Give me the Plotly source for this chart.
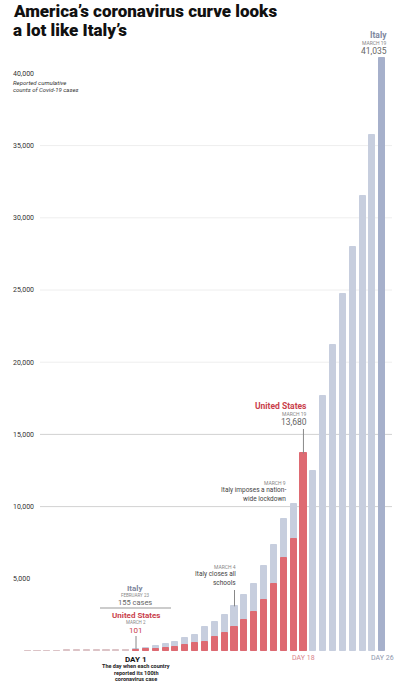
import plotly.graph_objects as go

# ---------------- data ----------------
italy_days = list(range(-10, 27))
italy_cases = [3, 3, 3, 3, 3, 3, 3, 3, 3, 20, 62,
               155, 229, 322, 453, 655, 888, 1128, 1694, 2036, 2502,
               3089, 3858, 4636, 5883, 7375, 9172, 10149, 12462, 12462, 17660,
               21157, 24747, 27980, 31506, 35713, 41035]
us_days = list(range(-10, 19))
us_cases = [13, 15, 15, 15, 51, 51, 57, 58, 60, 68, 74,
            101, 122, 153, 221, 278, 417, 537, 605, 959, 1281,
            1663, 2179, 2726, 3499, 4632, 6421, 7786, 13680]
y_ticks = [5000, 10000, 15000, 20000, 25000, 30000, 35000, 40000]
y_tick_labels = ["5,000", "10,000", "15,000", "20,000", "25,000", "30,000", "35,000", "40,000"]

# ---------------- style ----------------
GRAY = "#c7cede"
GRAY_LAST = "#a6b0cb"
GRAY_PRE = "#d6dae3"
RED = "#de6a72"
RED_PRE = "#dcc3c6"
RED_TEXT = "#c9414b"
ITALY_TEXT = "#7e879e"
FONT = "Roboto"

W, H = 400, 684
BASE_PY = 651  # pixel row of zero line
ML, MR, MT = 10, 0, 0
MB = H - BASE_PY
PW, PH = W - ML - MR, H - MT - MB
DAY1_PX, STEP = 136, 9.85
PX_PER_5K = 72.2


def px2x(px):
    return 1 + (px - DAY1_PX) / STEP


def py2y(py):
    return (BASE_PY - py) / PX_PER_5K * 5000


def ppx(px):
    return (px - ML) / PW


def ppy(py):
    return (BASE_PY - py) / PH


italy_colors = [GRAY_PRE if d < 1 else GRAY for d in italy_days]
italy_colors[-1] = GRAY_LAST
us_colors = [RED_PRE if d < 1 else RED for d in us_days]

fig = go.Figure()
fig.add_trace(go.Bar(x=italy_days, y=italy_cases, width=0.62,
                     marker=dict(color=italy_colors, line=dict(color=italy_colors, width=1)),
                     hoverinfo="x+y", name="Italy"))
fig.add_trace(go.Bar(x=us_days, y=us_cases, width=0.62,
                     marker=dict(color=us_colors, line=dict(color=us_colors, width=1)),
                     hoverinfo="x+y", name="United States"))

shapes = []
for v in y_ticks:
    if v in (10000, 15000):
        col = "#d2d2d2"
    elif v in (5000, 40000):
        continue
    else:
        col = "#eeeeee"
    shapes.append(dict(type="line", xref="x", yref="y", x0=px2x(40), x1=px2x(392),
                       y0=v, y1=v, line=dict(color=col, width=1), layer="below"))


def pidx(lst, d, days):
    return lst[days.index(d)]


# leader lines
us_last = us_days[-1]
shapes.append(dict(type="line", xref="x", yref="y", x0=us_last, x1=us_last,
                   y0=py2y(429), y1=pidx(us_cases, us_last, us_days),
                   line=dict(color="#888", width=1)))
shapes.append(dict(type="line", xref="x", yref="y", x0=11, x1=11,
                   y0=py2y(590), y1=pidx(italy_cases, 11, italy_days),
                   line=dict(color="#888", width=1)))
shapes.append(dict(type="line", xref="x", yref="y", x0=1, x1=1,
                   y0=py2y(636), y1=pidx(italy_cases, 1, italy_days),
                   line=dict(color="#888", width=1)))
shapes.append(dict(type="line", xref="paper", yref="paper", x0=ppx(100), x1=ppx(171),
                   y0=ppy(608), y1=ppy(608), line=dict(color="#999", width=1)))

annotations = []


def ann(px, py, text, size, color="#222", anchor="left", bold=False, italic=False,
        family=FONT, weight=None):
    if bold:
        text = "<b>" + text + "</b>"
    if italic:
        text = "<i>" + text + "</i>"
    font = dict(size=size, color=color, family=family)
    if weight:
        font["weight"] = weight
    annotations.append(dict(x=ppx(px), y=ppy(py), xref="paper", yref="paper", text=text,
                            showarrow=False, xanchor=anchor, yanchor="middle",
                            align=anchor if anchor != "center" else "center",
                            font=font))


# title
ann(11, 11, "America’s coronavirus curve looks", 17, "#111", weight=900)
ann(11, 30, "a lot like Italy’s", 17, "#111", weight=900)

# axis note
ann(11, 82, "Reported cumulative", 6, "#333", italic=True)
ann(11, 90, "counts of Covid-19 cases", 6, "#333", italic=True)

# Italy top
ann(389, 35, "Italy", 8.5, ITALY_TEXT, anchor="right", bold=True)
ann(389, 43, "MARCH 19", 5, "#888", anchor="right")
ann(389, 51, "41,035", 8.5, "#666", anchor="right")

# US top
ann(309, 406, "United States", 8.5, RED_TEXT, anchor="right", bold=True)
ann(309, 414, "MARCH 19", 5, "#888", anchor="right")
ann(309, 422, "13,680", 8.5, "#666", anchor="right")

# lockdown
ann(288, 483, "MARCH 9", 5, "#888", anchor="right")
ann(288, 490, "Italy imposes a nation-", 6.5, "#444", anchor="right")
ann(288, 499, "wide lockdown", 6.5, "#444", anchor="right")

# schools
ann(238, 567, "MARCH 4", 5, "#888", anchor="right")
ann(238, 574, "Italy closes all", 6.5, "#444", anchor="right")
ann(238, 583, "schools", 6.5, "#444", anchor="right")

# day 1 block
ann(135, 588, "Italy", 8, ITALY_TEXT, anchor="center", bold=True)
ann(135, 595, "FEBRUARY 23", 4.5, "#888", anchor="center")
ann(135, 602, "155 cases", 7.5, "#666", anchor="center")
ann(136, 615, "United States", 8, RED_TEXT, anchor="center", bold=True)
ann(136, 622, "MARCH 2", 4.5, "#888", anchor="center")
ann(136, 630, "101", 8, RED_TEXT, anchor="center")

# x labels
ann(136, 659, "DAY 1", 8, "#111", anchor="center", bold=True)
ann(136, 666, "The day when each country", 5.5, "#222", anchor="center", bold=True)
ann(136, 673, "reported its 100th", 5.5, "#222", anchor="center", bold=True)
ann(136, 679, "coronavirus case", 5.5, "#222", anchor="center", bold=True)
ann(303, 658, "DAY 18", 7, "#d9838a", anchor="center")
ann(382, 658, "DAY 26", 7, "#8e97ad", anchor="center")

fig.update_layout(
    width=W, height=H,
    margin=dict(l=ML, r=MR, t=MT, b=MB, pad=0),
    paper_bgcolor="white", plot_bgcolor="white",
    barmode="overlay", showlegend=False, bargap=0,
    xaxis=dict(range=[px2x(ML), px2x(W)], showgrid=False, zeroline=False,
               showticklabels=False, showline=False, fixedrange=True),
    yaxis=dict(range=[0, py2y(0)], tickvals=y_ticks, ticktext=y_tick_labels,
               ticklabelposition="inside", showgrid=False, zeroline=False,
               showline=False, ticks="", tickfont=dict(size=7, color="#333", family=FONT),
               fixedrange=True),
    shapes=shapes, annotations=annotations,
    font=dict(family=FONT),
)

fig.write_html("out.html", config={"displayModeBar": False},
               post_script="document.body.style.margin='0';document.body.style.overflow='hidden';")
